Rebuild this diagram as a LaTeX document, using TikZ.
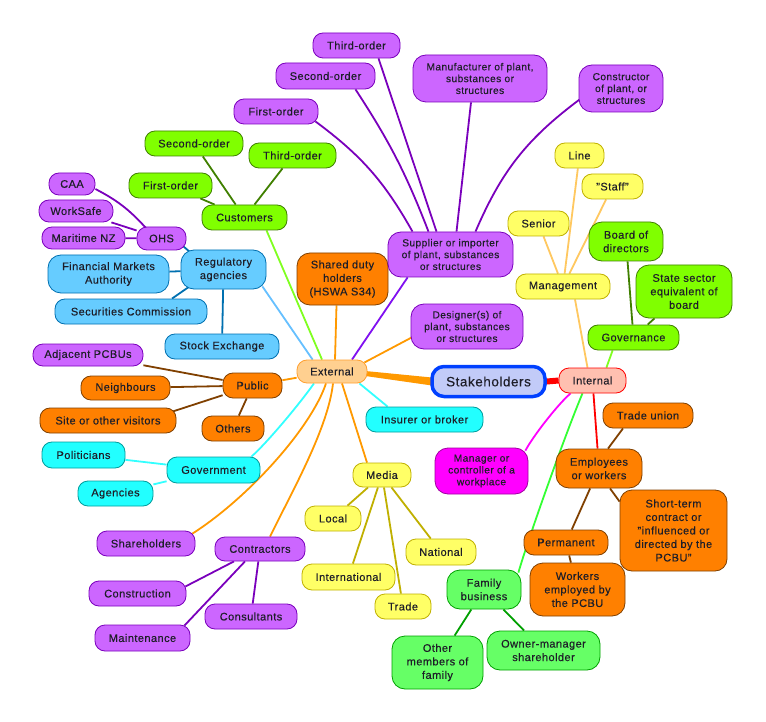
\documentclass[tikz,border=0pt]{standalone}
\usepackage{fontspec}
\setmainfont[LetterSpace=4,FakeBold=0.3]{Liberation Sans}
\usetikzlibrary{backgrounds,calc}
\definecolor{txtc}{HTML}{1E1E28}
\definecolor{purpF}{HTML}{CC66FF}
\definecolor{purpD}{HTML}{7A00BC}
\definecolor{violL}{HTML}{8010F0}
\definecolor{orgF}{HTML}{FF8000}
\definecolor{orgD}{HTML}{804000}
\definecolor{orgL}{HTML}{FF9900}
\definecolor{cyanF}{HTML}{22FFFF}
\definecolor{cyanD}{HTML}{009C9C}
\definecolor{cyanL}{HTML}{33FFFF}
\definecolor{blueF}{HTML}{66CCFF}
\definecolor{blueD}{HTML}{0070B0}
\definecolor{blueL}{HTML}{66C0FF}
\definecolor{grnF}{HTML}{80FF00}
\definecolor{grnD}{HTML}{408000}
\definecolor{grnL}{HTML}{80FF20}
\definecolor{yelF}{HTML}{FFFF66}
\definecolor{yelD}{HTML}{C0B000}
\definecolor{mgtL}{HTML}{FFC860}
\definecolor{lgF}{HTML}{66FF66}
\definecolor{lgD}{HTML}{00A000}
\definecolor{lgL}{HTML}{33FF33}
\definecolor{magF}{HTML}{FF00FF}
\definecolor{magD}{HTML}{A000A0}
\definecolor{extF}{HTML}{FFD090}
\definecolor{extD}{HTML}{FFA030}
\definecolor{intF}{HTML}{FFC0B0}
\definecolor{intD}{HTML}{FF0000}
\definecolor{stkF}{HTML}{C2CBF8}
\definecolor{stkD}{HTML}{0040FF}
\begin{document}
\begin{tikzpicture}[x=1pt,y=-1pt,
  nd/.style={draw, rounded corners=10pt, inner sep=1pt, align=center, line width=0.8pt, text=txtc, font=\fontsize{11}{13.5}\selectfont},
  sm/.style={font=\fontsize{10.2}{11.8}\selectfont},
  tall/.style={rounded corners=13pt},
  P/.style={nd, fill=purpF, draw=purpD},
  O/.style={nd, fill=orgF, draw=orgD},
  C/.style={nd, fill=cyanF, draw=cyanD},
  B/.style={nd, fill=blueF, draw=blueD},
  G/.style={nd, fill=grnF, draw=grnD},
  Y/.style={nd, fill=yelF, draw=yelD},
  LG/.style={nd, fill=lgF, draw=lgD},
  M/.style={nd, fill=magF, draw=magD},
  sz/.style 2 args={minimum width=#1pt, minimum height=#2pt},
  ln/.style={line width=1.8pt, draw=#1},
]
\useasboundingbox (0,0) rectangle (766,722);
% centre
\node[draw=stkD, fill=stkF, line width=3.5pt, rounded corners=12pt, sz={113}{30}, inner sep=1pt, text=txtc, font=\fontsize{13.5}{16}\selectfont] (stk) at (488.5,381.5) {Stakeholders};
\node[nd, fill=extF, draw=extD, sz={70}{23}] (ext) at (332,371.5) {External};
\node[nd, fill=intF, draw=intD, sz={67}{25}] (int) at (592.5,380.5) {Internal};
% external children
\node[O, tall, sz={91}{52}] (shd) at (342.5,279) {Shared duty\\holders\\(HSWA S34)};
\node[P, tall, sz={125}{45}, sm] (sup) at (450.5,254.5) {Supplier or importer\\of plant, substances\\or structures};
\node[P, tall, sz={112}{45}, sm] (des) at (467,326.5) {Designer(s) of\\plant, substances\\or structures};
\node[C, sz={117}{25}] (ins) at (424.5,419.5) {Insurer or broker};
\node[Y, sz={58}{24}] (med) at (382,475) {Media};
\node[P, sz={90}{24}] (con) at (260,549) {Contractors};
\node[P, sz={98}{25}] (shr) at (146,543.5) {Shareholders};
\node[C, sz={93}{26}] (gov) at (213.5,470) {Government};
\node[O, sz={59}{25}] (pub) at (252.5,385.5) {Public};
\node[B, tall, sz={85}{39}] (reg) at (223.5,269.5) {Regulatory\\agencies};
\node[G, sz={85}{25}] (cus) at (244.5,217.5) {Customers};
% regulatory
\node[B, sz={114}{25}] (stx) at (222,346.5) {Stock Exchange};
\node[P, sz={49}{23}] (ohs) at (161.5,238.5) {OHS};
\node[B, tall, sz={121}{38}] (fma) at (108.5,274) {Financial Markets\\Authority};
\node[B, sz={152}{25}] (sec) at (131,311.5) {Securities Commission};
\node[P, sz={46}{22}] (caa) at (72,184) {CAA};
\node[P, sz={74}{22}] (wks) at (76,211) {WorkSafe};
\node[P, sz={83}{22}] (mnz) at (83.5,238) {Maritime NZ};
% customers
\node[G, sz={83}{25}] (cfo) at (170.5,185.5) {First-order};
\node[G, sz={98}{25}] (cso) at (194,143.5) {Second-order};
\node[G, sz={87}{25}] (cto) at (292.5,155.5) {Third-order};
% supplier
\node[P, sz={87}{25}] (sto) at (356.5,45.5) {Third-order};
\node[P, sz={99}{26}] (sso) at (325.5,76) {Second-order};
\node[P, sz={84}{25}] (sfo) at (276,111.5) {First-order};
\node[P, tall, sz={134}{47}, sm] (man) at (480,78.5) {Manufacturer of plant,\\substances or\\structures};
\node[P, tall, sz={84}{47}, sm] (cst) at (621,88.5) {Constructor\\of plant, or\\structures};
% public
\node[P, sz={110}{22}] (adj) at (88,355) {Adjacent PCBUs};
\node[O, sz={89}{24}] (nei) at (125.5,388) {Neighbours};
\node[O, sz={136}{25}] (sit) at (108,420.5) {Site or other visitors};
\node[O, sz={62}{25}] (oth) at (233,428.5) {Others};
% government
\node[C, sz={83}{26}] (pol) at (83.5,455) {Politicians};
\node[C, sz={75}{25}] (agn) at (115.5,493.5) {Agencies};
% contractors
\node[P, sz={97}{25}] (ctn) at (137.5,593.5) {Construction};
\node[P, sz={95}{26}] (mnt) at (142.5,638) {Maintenance};
\node[P, sz={92}{25}] (cns) at (251,616.5) {Consultants};
% media
\node[Y, sz={56}{25}] (loc) at (333,518.5) {Local};
\node[Y, sz={93}{26}] (itl) at (348.5,577) {International};
\node[Y, sz={56}{25}] (trd) at (403,606.5) {Trade};
\node[Y, sz={70}{26}] (nat) at (441,552) {National};
% internal
\node[Y, sz={94}{25}] (mgt) at (563,286.5) {Management};
\node[Y, sz={61}{25}] (sen) at (538.5,223.5) {Senior};
\node[Y, sz={49}{25}] (lin) at (579.5,155.5) {Line};
\node[Y, sz={61}{25}] (stf) at (612.5,186.5) {"Staff"};
\node[G, sz={91}{25}] (gvn) at (633.5,337.5) {Governance};
\node[G, tall, sz={74}{39}] (brd) at (626,241.5) {Board of\\directors};
\node[G, tall, sz={96}{53}] (sse) at (684,291.5) {State sector\\equivalent of\\board};
\node[M, tall, sz={93}{46}, sm] (mgr) at (481.5,471) {Manager or\\controller of a\\workplace};
\node[O, tall, sz={86}{39}] (emp) at (599,468.5) {Employees\\or workers};
\node[O, sz={90}{25}] (tun) at (648,415.5) {Trade union};
\node[O, rounded corners=12pt, sz={107}{81}] (stc) at (673.5,530.5) {Short-term\\contract or\\"influenced or\\directed by the\\PCBU"};
\node[O, sz={84}{25}] (per) at (566,542.5) {Permanent};
\node[O, tall, sz={95}{53}] (wep) at (577.5,589.5) {Workers\\employed by\\the PCBU};
\node[LG, tall, sz={74}{39}] (fam) at (484,589.5) {Family\\business};
\node[LG, tall, sz={91}{53}] (omf) at (437.5,662.5) {Other\\members of\\family};
\node[LG, tall, sz={113}{39}] (oms) at (543.5,650.5) {Owner-manager\\shareholder};

\begin{pgfonlayer}{background}
\fill[white] (0,0) rectangle (766,722);
% main links
\fill[orgL] ($(ext.east)+(-2,-0.5)$) -- ($(stk.west)+(1.5,-4)$) -- ($(stk.west)+(1.5,4)$) -- ($(ext.east)+(-2,4.5)$) -- cycle;
\draw[line width=6pt, intD] (int.west) -- (stk.east);
% external
\draw[ln=orgL] ($(ext.north)+(3,0)$) -- ($(shd.south)+(-6,0)$);
\draw[ln=violL] ($(ext.north)+(20,0)$) -- ($(sup.south west)+(20,0)$);
\draw[ln=orgL] ($(ext.east)+(-3,-9)$) -- ($(des.west)+(1,11)$);
\draw[ln=cyanL] ($(ext.south east)+(-8,0)$) -- ($(ins.north west)+(22,0)$);
\draw[ln=orgL] ($(ext.south)+(10,0)$) -- ($(med.north)+(-15,0)$);
\draw[ln=orgL] ($(ext.south)+(1,0)$) .. controls +(-5,45) and +(22,-45) .. ($(con.north)+(10,0)$);
\draw[ln=orgL] ($(ext.south)+(-6,0)$) .. controls +(-15,45) and +(55,-35) .. ($(shr.north east)+(-3,3)$);
\draw[ln=cyanL] ($(ext.south)+(-18,0)$) .. controls +(-14,20) and +(15,-13) .. ($(gov.north east)+(-9,0)$);
\draw[ln=orgL] (ext) -- (pub);
\draw[ln=blueL] ($(ext.north west)+(16,0)$) -- ($(reg.south east)+(-4,-3)$);
\draw[ln=grnL] ($(ext.north)+(-10,0)$) -- ($(cus.south)+(22,0)$);
% supplier
\draw[ln=purpD] ($(sup.north)+(-38,0)$) to[bend right=12] ($(sfo.south east)+(-3,-3)$);
\draw[ln=purpD] ($(sup.north)+(-22,0)$) to[bend right=6] ($(sso.south)+(30,0)$);
\draw[ln=purpD] ($(sup.north)+(-14,0)$) -- ($(sto.south)+(22,0)$);
\draw[ln=purpD] ($(sup.north)+(6,0)$) -- ($(man.south)+(-9,0)$);
\draw[ln=purpD] ($(sup.north)+(25,0)$) to[bend left=15] ($(cst.west)+(1,11)$);
% customers
\draw[ln=grnD] (cus) -- (cfo);
\draw[ln=grnD] (cus) -- (cso);
\draw[ln=grnD] (cus) -- (cto);
% regulatory
\draw[ln=blueD] ($(reg.north west)+(10,3)$) -- ($(ohs.south east)+(-3,-4)$);
\draw[ln=blueD] (reg) -- (fma);
\draw[ln=blueD] ($(reg.south west)+(9,-3)$) -- ($(sec.north)+(41,0)$);
\draw[ln=blueD] (reg) -- (stx);
% ohs
\draw[ln=purpD] ($(ohs.north west)+(9,1)$) to[bend right=10] ($(caa.east)+(0,5)$);
\draw[ln=purpD] (ohs) -- (wks);
\draw[ln=purpD] (ohs) -- (mnz);
% public
\draw[ln=orgD] (pub) -- (adj);
\draw[ln=orgD] (pub) -- (nei);
\draw[ln=orgD] (pub) -- ($(sit.north east)+(-4,4)$);
\draw[ln=orgD] (pub) -- (oth);
% government
\draw[ln=cyanL] (gov) -- (pol);
\draw[ln=cyanL] (gov) -- (agn);
% contractors
\draw[ln=purpD] ($(con.south)+(-26,0)$) -- ($(ctn.east)+(-1,-7)$);
\draw[ln=purpD] ($(con.south)+(-15,0)$) -- ($(mnt.north east)+(-6,1)$);
\draw[ln=purpD] (con) -- (cns);
% media
\draw[ln=yelD] (med) -- (loc);
\draw[ln=yelD] (med) -- (itl);
\draw[ln=yelD] (med) -- (trd);
\draw[ln=yelD] (med) -- (nat);
% internal
\draw[ln=mgtL] ($(int.north)+(-5,0)$) -- ($(mgt.south)+(12,0)$);
\draw[ln=mgtL] (mgt) -- (sen);
\draw[ln=mgtL] (mgt) -- (lin);
\draw[ln=mgtL] (mgt) -- (stf);
\draw[ln=grnL] ($(int.north east)+(-20,0)$) -- ($(gvn.south west)+(25,0)$);
\draw[ln=grnD] (gvn) -- (brd);
\draw[ln=grnD] (gvn) -- (sse);
\draw[ln=magF] ($(int.south west)+(12,0)$) .. controls +(-12,10) and +(8,-15) .. ($(mgr.north east)+(-3,3)$);
\draw[ln=intD] (int) -- (emp);
\draw[ln=lgL] ($(int.south)+(-10,0)$) .. controls +(-15,35) and +(10,-35) .. ($(fam.north east)+(-3,3)$);
\draw[ln=orgD] ($(emp.north)+(9,0)$) -- ($(tun.south)+(-25,0)$);
\draw[ln=orgD] ($(emp.south)+(11,0)$) -- ($(stc.north west)+(0,12)$);
\draw[ln=orgD] (emp) -- (per);
\draw[ln=orgD] (per) -- (wep);
\draw[ln=lgD] (fam) -- (omf);
\draw[ln=lgD] (fam) -- (oms);
\end{pgfonlayer}
\end{tikzpicture}
\end{document}
